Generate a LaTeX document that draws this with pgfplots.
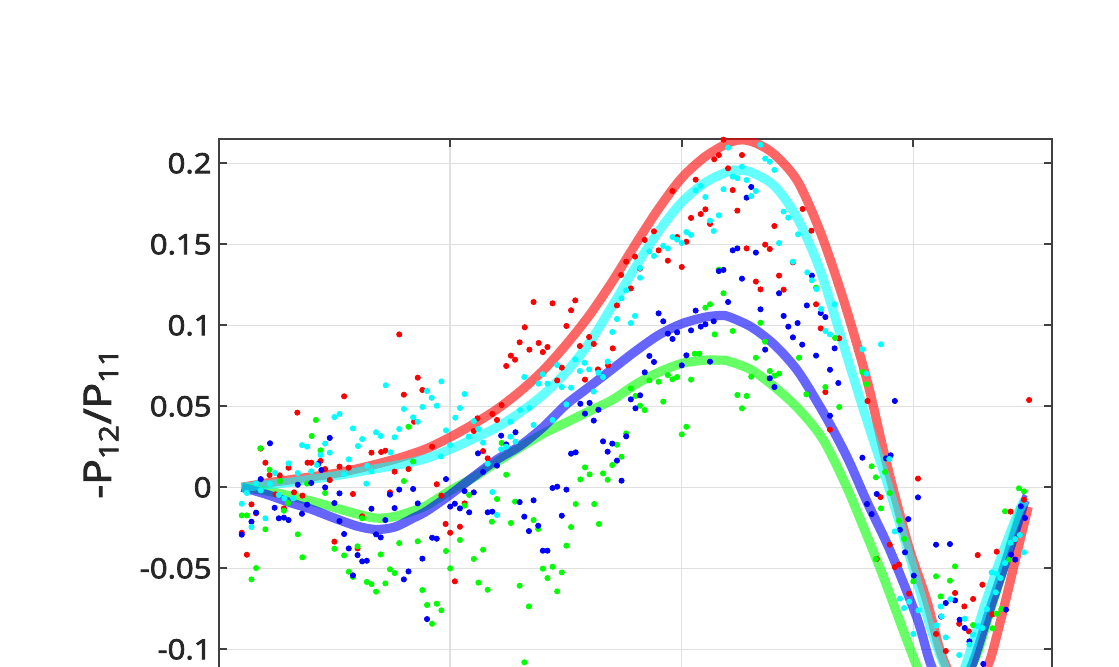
\documentclass[border=0pt]{standalone}
\usepackage{fontspec}
\setmainfont{Open Sans}[FakeStretch=1.12, FakeBold=2.8]
\usepackage{pgfplots}
\pgfplotsset{compat=1.18}
\definecolor{cR}{rgb}{1,0,0}
\definecolor{cG}{rgb}{0,1,0}
\definecolor{cB}{rgb}{0,0,1}
\definecolor{cC}{rgb}{0,1,1}

\begin{document}
\begin{tikzpicture}
\begin{axis}[
  at={(0,0)}, anchor=north west,
  scale only axis, width=416.85pt, height=300.7pt,
  xmin=0, xmax=180, ymin=-0.156, ymax=0.2152,
  xtick={0,50,100,150}, xticklabels={},
  ytick={-0.1,-0.05,0,0.05,0.1,0.15,0.2},
  yticklabels={-0.1,-0.05,0,0.05,0.1,0.15,0.2},
  tick align=inside, major tick length=4pt,
  grid=major, major grid style={black!12, line width=0.7pt},
  axis line style={black!75, line width=1pt},
  tick style={black!75, line width=1pt},
  ticklabel style={font=\fontsize{13.9}{16}\selectfont, text=black!85},
  ylabel={-P\textsubscript{12}/P\textsubscript{11}},
  every axis y label/.style={at={(axis description cs:-0.141,0.527)}, rotate=90, anchor=center,
    font=\fontsize{19}{22}\selectfont, text=black!85},
  mark size=1.3pt,
]
% measured points
\addplot[only marks, mark=*, cR] coordinates {
(5.0,-0.028) (6.1,-0.0416) (7.1,-0.0105) (8.1,-0.016) (9.1,0.0239) (10.1,0.0152) (11.0,0.0076) (12.3,-0.0043) (13.2,0.0074) (14.1,-0.013) (15.1,0.0121) (16.3,-0.0031) (17.0,0.0461) (18.1,-0.0051) (19.2,0.0152) (20.0,0.0152) (22.0,0.0163) (23.0,0.0113) (24.0,0.0045) (25.0,-0.0335) (26.1,0.0128) (27.1,0.0562) (28.1,0.0121) (29.0,-0.0041) (30.0,-0.0377) (31.0,-0.0179) (33.0,0.0214) (35.1,0.0218) (36.0,0.0226) (37.0,-0.0031) (38.0,0.0097) (39.0,0.0944) (40.0,0.0572) (41.0,0.0113) (42.2,0.0405) (43.0,0.0677) (44.0,0.0601)
(46.1,0.0251) (47.1,0.0019) (48.1,-0.0051) (49.0,-0.0226) (50.0,-0.028) (51.0,-0.058) (52.1,-0.0243) (53.1,-0.0099) (55.1,0.0348) (55.9,0.0426) (57.1,0.0224) (58.1,0.0179) (59.1,0.0453) (60.1,0.0416) (61.1,0.0508) (62.1,0.0749) (63.1,0.0813) (64.0,0.0788) (65.0,0.0895) (66.1,0.0988) (67.1,0.085) (68.0,0.1144) (69.1,0.0891) (70.0,0.0835) (71.0,0.0866) (72.1,0.1136) (73.1,0.066) (74.1,0.0739) (75.1,0.0996) (76.1,0.1093) (77.0,0.1154) (78.0,0.0872) (79.1,0.0665) (80.0,0.0928) (81.0,0.0885) (81.9,0.0728) (84.1,0.0753) (85.1,0.0858) (86.0,0.1123) (86.9,0.1311) (88.0,0.1393) (89.0,0.1228) (89.9,0.1424)
(91.0,0.135) (92.0,0.1527) (94.0,0.158) (95.0,0.1463) (97.0,0.1399) (98.0,0.1829) (99.0,0.1545) (100.0,0.136) (101.0,0.1516) (102.0,0.1663) (103.0,0.1899) (104.1,0.1687) (105.1,0.1716) (106.1,0.1626) (107.0,0.2025) (108.0,0.2051) (109.0,0.2146) (110.0,0.1969) (111.0,0.1835) (112.0,0.1708) (113.0,0.2051) (114.0,0.1475) (116.0,0.127) (117.0,0.1222) (118.0,0.1498) (119.0,0.1471) (120.0,0.1613) (121.0,0.1307) (122.0,0.122) (124.0,0.1389) (126.1,0.1718) (128.0,0.1584) (129.0,0.113) (130.0,0.0981) (131.0,0.0588) (132.0,0.0356) (134.0,0.092)
(140.1,0.0533) (142.1,-0.0442) (142.9,-0.006) (144.9,-0.0354) (146.0,-0.0492) (146.9,-0.0477) (149.1,-0.0656) (151.0,0.0054) (154.9,-0.0905) (157.0,-0.101) (159.0,-0.0652) (159.9,-0.0842) (161.0,-0.0735) (162.0,-0.0889) (162.9,-0.0689) (163.9,-0.0418) (164.9,-0.0601) (167.1,-0.0784) (168.0,-0.0397) (171.0,-0.015) (172.0,-0.0323) (173.9,-0.0076) (175.0,0.0539)
};
\addplot[only marks, mark=*, cG] coordinates {
(5.0,-0.0173) (6.1,-0.0173) (7.1,-0.0568) (8.1,-0.0498) (9.0,0.0241) (10.1,-0.0259) (11.0,0.0109) (13.3,0.0039) (14.1,-0.0144) (15.0,-0.0097) (17.1,-0.029) (18.1,-0.0432) (19.1,0.0023) (20.1,0.0317) (21.0,0.0416) (22.0,0.0228) (23.0,-0.0035) (25.0,-0.0379) (27.1,-0.042) (28.1,-0.0521) (29.0,-0.0553) (30.0,-0.0364) (31.0,-0.0191) (32.0,-0.0584) (33.0,-0.0597) (34.0,-0.0644) (35.0,-0.0414) (36.0,-0.0593) (37.0,-0.0506) (38.0,-0.0529) (39.0,-0.0344) (40.0,0.0039) (41.0,0.0374) (42.0,0.016) (43.0,-0.0333) (44.0,-0.0634) (45.0,-0.0726)
(46.1,-0.0842) (47.1,-0.0718) (48.1,-0.0759) (49.1,-0.0393) (50.0,-0.05) (52.1,-0.0325) (53.1,-0.0113) (54.1,-0.0047) (55.1,-0.0442) (56.1,-0.0588) (57.1,-0.0385) (58.1,-0.0632) (59.0,-0.0212) (60.1,-0.0072) (61.1,0.0274) (62.1,0.0078) (63.1,-0.022) (64.0,-0.0088) (65.0,-0.0607) (66.0,-0.108) (67.0,-0.0735) (68.0,-0.0202) (69.0,-0.0257) (70.0,-0.0502) (71.0,-0.056) (72.1,-0.049) (73.1,-0.0642) (74.1,-0.0525) (75.1,-0.036) (76.1,-0.0245) (77.1,-0.0103) (78.1,0.0049) (79.1,0.0123) (80.1,0.008) (81.1,-0.0103) (82.1,-0.0226) (83.0,0.0086) (84.0,0.0047) (85.0,0.0138) (86.0,0.0263) (87.0,0.0189) (88.0,0.0333) (89.0,0.0611) (90.0,0.0564)
(91.0,0.0504) (92.0,0.0477) (93.0,0.066) (95.0,0.0652) (96.0,0.0529) (97.0,0.0693) (98.0,0.0667) (99.0,0.0681) (100.0,0.0327) (101.0,0.0374) (102.0,0.0665) (102.8,0.0825) (103.8,0.0825) (105.1,0.1109) (106.1,0.113) (107.1,0.0944) (108.0,0.1344) (109.0,0.1198) (111.0,0.0965) (112.0,0.057) (113.0,0.0488) (114.0,0.0564) (115.0,0.0683) (116.0,0.08) (117.0,0.1016) (118.0,0.0899) (119.0,0.0718) (120.0,0.0689) (121.0,0.0702) (125.3,0.08) (126.9,0.0574) (129.0,0.1233) (131.0,0.0619) (133.1,0.0922) (134.0,0.0496)
(139.0,0.0712) (139.9,0.0636) (141.0,0.013) (141.9,0.0062) (141.9,-0.0442) (143.0,-0.013) (143.9,0.0095) (144.9,-0.0035) (146.9,-0.0206) (148.0,-0.0319) (150.0,-0.058) (154.9,-0.0549) (155.9,-0.0673) (157.9,-0.0576) (159.0,-0.0488) (162.9,-0.085) (167.1,-0.087) (168.0,-0.078) (169.0,-0.0751) (169.8,-0.0148) (170.7,-0.0446) (172.8,-0.0006) (173.9,-0.0025)
};
\addplot[only marks, mark=*, cB] coordinates {
(5.0,-0.0292) (7.1,-0.0212) (8.1,-0.0156) (9.1,0.0051) (11.1,0.0272) (12.1,-0.0126) (13.0,-0.0191) (14.1,-0.0187) (15.1,-0.0202) (17.1,0.0016) (18.0,-0.0163) (19.1,-0.0107) (20.0,0.0027) (21.5,0.0144) (22.2,0.0107) (23.0,0.0) (24.0,0.0305) (25.0,-0.0097) (26.1,-0.0037) (26.1,-0.0208) (27.1,-0.0288) (28.1,-0.0377) (29.0,-0.0543) (30.0,-0.0418) (31.0,-0.0457) (32.0,-0.0453) (33.0,-0.0132) (34.0,-0.029) (35.0,-0.0309) (36.0,-0.0202) (37.0,-0.0045) (38.0,-0.0128) (39.0,-0.0014) (40.0,-0.0568) (41.0,-0.0519) (42.0,-0.001) (43.0,-0.0099) (44.0,-0.044) (45.0,-0.0813)
(46.1,-0.0311) (47.1,-0.0317) (49.1,0.0051) (50.0,-0.0119) (51.0,-0.0101) (52.1,-0.013) (53.1,-0.0023) (54.1,-0.0154) (55.1,-0.0031) (56.0,0.021) (57.1,0.0095) (58.1,-0.0154) (59.1,-0.015) (60.1,0.0134) (61.0,0.0319) (62.1,0.0265) (64.1,0.034) (65.0,-0.0091) (66.0,-0.0181) (67.0,-0.027) (68.0,-0.008) (69.0,-0.0237) (70.0,-0.0391) (71.0,-0.0391) (72.1,-0.0004) (73.1,0.0004) (74.1,-0.0175) (75.1,-0.0014) (76.1,0.0208) (77.1,0.0216) (78.1,0.0516) (79.1,0.0455) (80.1,0.0521) (81.0,0.0412) (82.0,0.0479) (83.0,0.0284) (84.0,0.022) (85.0,0.027) (86.0,0.0165) (87.0,0.0041) (88.0,0.0315) (89.0,0.0543) (90.0,0.0488)
(91.0,0.0568) (92.0,0.071) (93.0,0.0811) (94.0,0.0774) (95.0,0.1074) (96.0,0.1025) (97.0,0.0949) (98.0,0.0916) (99.0,0.0957) (100.0,0.0753) (101.0,0.0815) (102.0,0.0969) (103.0,0.1091) (104.1,0.0992) (105.1,0.1006) (106.1,0.0776) (106.9,0.1025) (108.0,0.1335) (109.0,0.1342) (110.0,0.1144) (111.0,0.1463) (112.0,0.1475) (113.0,0.1288) (114.0,0.1788) (115.0,0.1854) (116.0,0.1449) (117.0,0.1099) (118.0,0.085) (119.0,0.0673) (120.0,0.0619) (121.0,0.1198) (122.0,0.1058) (123.0,0.0992) (124.0,0.0926) (125.0,0.1014) (126.0,0.0881) (127.0,0.1123) (128.1,0.1307) (129.0,0.0813) (130.0,0.1076) (131.0,0.1051) (132.0,0.0726) (132.0,0.0442) (133.0,0.0858) (133.8,0.0644)
(139.0,0.0183) (140.0,-0.0103) (141.0,-0.0165) (142.1,-0.0041) (144.1,0.0179) (145.1,0.0198) (146.0,0.0533) (147.1,-0.0262) (148.2,-0.0401) (148.9,-0.0196) (150.1,-0.0545) (151.0,-0.0062) (154.9,-0.0354) (156.0,-0.0798) (157.0,-0.0714) (157.9,-0.035) (159.0,-0.0698) (160.0,-0.0817) (161.1,-0.0868) (162.1,-0.0951) (165.1,-0.109) (170.0,-0.0755) (171.1,-0.0415) (172.0,-0.0446) (173.2,-0.0117) (174.1,-0.0189)
};
\addplot[only marks, mark=*, cC] coordinates {
(5.0,-0.0101) (6.1,-0.0035) (7.1,-0.0245) (8.1,0.0025) (9.1,-0.0019) (10.1,-0.0191) (11.1,0.0021) (12.2,0.0088) (13.0,-0.0047) (14.2,-0.0068) (15.1,0.0148) (16.1,-0.0068) (17.1,0.0088) (18.0,0.0261) (19.1,0.0251) (20.0,0.0099) (21.2,0.0138) (22.0,0.02) (23.0,0.027) (24.0,0.0214) (25.0,0.0434) (26.1,0.0453) (27.1,0.008) (28.1,0.0173) (29.0,0.0364) (30.1,0.0255) (31.0,0.0298) (31.9,0.0023) (32.1,0.0134) (33.0,0.0099) (34.0,0.034) (35.0,0.0317) (36.1,0.063) (37.1,0.0216) (38.0,0.0309) (39.0,0.036) (40.0,0.0484) (42.0,0.0432) (43.0,0.0405) (44.0,0.0496) (45.0,0.0595)
(46.0,0.0553) (47.1,0.0504) (48.0,0.0191) (48.1,0.0654) (49.1,0.0352) (50.0,0.0261) (51.1,0.043) (52.1,0.049) (53.1,0.0576) (54.0,0.0313) (55.1,0.0409) (56.1,0.036) (57.1,0.0276) (58.1,0.0146) (59.1,-0.0029) (60.1,-0.0171) (61.0,0.0235) (62.1,0.0251) (63.0,0.0405) (63.0,0.0313) (64.1,0.0282) (65.1,0.0477) (66.0,0.0681) (67.1,0.049) (68.0,0.0385) (69.1,0.064) (70.0,0.0698) (71.0,0.064) (72.1,0.0416) (73.1,0.0755) (74.1,0.0619) (75.1,0.0512) (76.1,0.0615) (77.0,0.079) (78.0,0.0718) (79.0,0.0769) (80.0,0.0728) (81.0,0.0591) (82.0,0.0708) (83.0,0.0681) (84.0,0.0776) (85.0,0.0959) (86.0,0.1039) (87.0,0.1167) (88.0,0.1216) (89.0,0.1014) (89.9,0.1058)
(91.0,0.1354) (91.0,0.1294) (93.0,0.1457) (94.0,0.1428) (96.0,0.149) (97.0,0.1475) (98.0,0.1545) (99.0,0.1529) (100.0,0.1508) (101.0,0.1576) (102.0,0.1558) (103.0,0.1833) (104.1,0.186) (105.1,0.1792) (106.1,0.1646) (106.9,0.1582) (108.0,0.1679) (109.0,0.184) (110.0,0.2097) (111.0,0.1918) (112.0,0.1909) (113.0,0.1979) (114.0,0.1897) (115.0,0.1798) (116.0,0.1829) (117.0,0.2115) (118.0,0.2029) (119.0,0.201) (120.0,0.1959) (121.0,0.1508) (122.0,0.1702) (123.0,0.1665) (124.0,0.1393) (125.1,0.1562) (127.1,0.1327) (128.1,0.1278) (129.1,0.1224) (130.1,0.1101) (131.0,0.0965) (132.0,0.0944) (133.0,0.113)
(139.0,0.0852) (139.9,0.0702) (143.0,0.0883) (144.8,0.0175) (146.0,-0.0272) (147.1,-0.0687) (148.0,-0.0745) (149.1,-0.0706) (150.0,-0.0905) (151.1,-0.0759) (155.0,-0.0852) (155.9,-0.0735) (156.1,-0.0796) (157.0,-0.0926) (158.0,-0.069) (159.9,-0.1035) (161.1,-0.0811) (162.1,-0.0971) (162.9,-0.0909) (163.9,-0.0858) (164.9,-0.0868) (165.9,-0.0751) (166.9,-0.0525) (167.8,-0.0648) (168.0,-0.0533) (168.8,-0.056) (169.8,-0.0467) (171.0,-0.0342) (172.0,-0.032) (173.0,-0.0294) (173.9,-0.0401)
};
% fitted curves
\addplot[cR, opacity=0.6, line width=4.6pt, smooth] coordinates {
(5,0) (10,0.0025) (15,0.0045) (20,0.0065) (25,0.0085) (30,0.0115) (35,0.015) (40,0.019) (45,0.024) (50,0.031) (55,0.039) (60,0.048) (65,0.059) (70,0.072) (75,0.088) (80,0.106) (85,0.127) (90,0.150) (95,0.172) (100,0.191) (105,0.204) (110,0.2125) (113,0.2145) (116,0.2125) (120,0.2055) (125,0.189) (130,0.157) (135,0.115) (140,0.066) (143.5,0.0233) (146,-0.005) (149.2,-0.0385) (152.8,-0.069) (155.7,-0.100) (158,-0.116) (160,-0.125) (162,-0.127) (164,-0.121) (166.5,-0.107) (168.5,-0.086) (170.5,-0.063) (172.5,-0.039) (174.8,-0.012)
};
\addplot[cG, opacity=0.6, line width=4.6pt, smooth] coordinates {
(5,0) (10,-0.002) (15,-0.005) (20,-0.0085) (25,-0.0125) (30,-0.0165) (34,-0.019) (38,-0.018) (42,-0.0145) (45,-0.011) (50,-0.002) (55,0.006) (60,0.0155) (65,0.0245) (70,0.033) (75,0.040) (80,0.047) (85,0.054) (90,0.0635) (95,0.071) (100,0.0765) (105,0.0785) (108,0.0785) (110,0.078) (115,0.0725) (120,0.062) (125,0.049) (130.4,0.030) (135.4,0.0015) (140,-0.030) (143.5,-0.055) (147,-0.082) (150.7,-0.110) (153,-0.124) (155.5,-0.130) (158,-0.127) (160.5,-0.120) (163.6,-0.104) (166.5,-0.077) (170,-0.045) (173.3,-0.012)
};
\addplot[cB, opacity=0.6, line width=4.6pt, smooth] coordinates {
(5,0) (10,-0.004) (15,-0.009) (20,-0.0135) (25,-0.019) (30,-0.024) (34,-0.026) (38,-0.0245) (42,-0.019) (45,-0.0145) (50,-0.0045) (55,0.0065) (60,0.017) (65,0.0255) (70,0.037) (75,0.051) (80,0.062) (85,0.073) (90,0.084) (95,0.094) (100,0.101) (105,0.105) (108,0.106) (110,0.1055) (115,0.099) (120,0.088) (125,0.072) (130,0.049) (133.3,0.032) (136.3,0.015) (140,-0.009) (144.9,-0.0385) (150.7,-0.080) (153.6,-0.108) (156,-0.122) (158.3,-0.126) (160.5,-0.122) (162.9,-0.108) (166.5,-0.0755) (170.1,-0.0447) (173.7,-0.0117) (174.2,-0.008)
};
\addplot[cC, opacity=0.6, line width=4.6pt, smooth] coordinates {
(5,0) (10,0.0015) (15,0.003) (20,0.005) (25,0.007) (30,0.0095) (35,0.012) (40,0.0145) (45,0.018) (50,0.0235) (55,0.030) (60,0.037) (65,0.046) (70,0.057) (75,0.071) (80,0.089) (85,0.112) (90,0.136) (95,0.158) (100,0.176) (105,0.188) (110,0.195) (112,0.1958) (115,0.1945) (120,0.186) (125,0.166) (130,0.133) (135,0.087) (139,0.050) (142,0.0235) (145,-0.003) (149.2,-0.0426) (152,-0.070) (154,-0.089) (156.4,-0.108) (158.5,-0.119) (160,-0.118) (161.5,-0.108) (165.1,-0.0755) (168.7,-0.045) (172.3,-0.018) (174,-0.008)
};
\end{axis}
\pgfresetboundingbox
\useasboundingbox (-109.3pt,69.35pt) rectangle (450.2pt,-264.15pt);
\end{tikzpicture}
\end{document}
